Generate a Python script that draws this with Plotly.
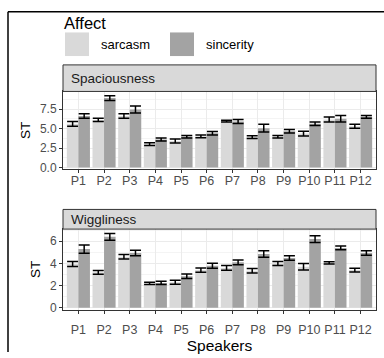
import plotly.graph_objects as go

speakers = ["P1", "P2", "P3", "P4", "P5", "P6", "P7", "P8", "P9", "P10", "P11", "P12"]

spa_sarcasm = [5.6, 6.1, 6.6, 3.0, 3.4, 4.0, 5.95, 3.9, 3.95, 4.35, 6.15, 5.3]
spa_sarcasm_se = [0.3, 0.2, 0.3, 0.18, 0.25, 0.17, 0.12, 0.18, 0.15, 0.3, 0.32, 0.25]
spa_sincerity = [6.6, 8.9, 7.45, 3.6, 3.95, 4.4, 5.9, 5.05, 4.65, 5.6, 6.25, 6.5]
spa_sincerity_se = [0.3, 0.3, 0.45, 0.2, 0.15, 0.22, 0.25, 0.5, 0.22, 0.22, 0.42, 0.18]

wig_sarcasm = [3.95, 3.2, 4.6, 2.2, 2.3, 3.4, 3.6, 3.35, 4.0, 3.7, 4.05, 3.4]
wig_sarcasm_se = [0.22, 0.17, 0.2, 0.1, 0.18, 0.2, 0.22, 0.2, 0.18, 0.3, 0.1, 0.18]
wig_sincerity = [5.3, 6.4, 4.95, 2.25, 2.85, 3.8, 4.1, 4.85, 4.5, 6.2, 5.4, 4.95]
wig_sincerity_se = [0.37, 0.3, 0.25, 0.15, 0.2, 0.22, 0.22, 0.3, 0.2, 0.3, 0.17, 0.2]

facets = ["Spaciousness", "Wiggliness"]
affects = ["sarcasm", "sincerity"]
colors = {"sarcasm": "#D9D9D9", "sincerity": "#A3A3A3"}

W, H = 384, 358
FONT = "Liberation Sans, Arial, sans-serif"

def px_x(x):
    return x / W

def px_y(y):
    return 1 - y / H

fig = go.Figure()

data = [
    ("x", "y", spa_sarcasm, spa_sarcasm_se, spa_sincerity, spa_sincerity_se),
    ("x2", "y2", wig_sarcasm, wig_sarcasm_se, wig_sincerity, wig_sincerity_se),
]
for xa, ya, s1, e1, s2, e2 in data:
    for name, vals, errs in [("sarcasm", s1, e1), ("sincerity", s2, e2)]:
        fig.add_trace(go.Bar(
            x=speakers, y=vals, name=name, xaxis=xa, yaxis=ya,
            marker=dict(color=colors[name], line=dict(width=0)),
            error_y=dict(type="data", array=errs, visible=True, color="black",
                         thickness=1.5, width=5.5),
            showlegend=False, offsetgroup=name,
        ))

x0, x1 = px_x(63), px_x(376)
p1_top, p1_bot = 93, 172
p2_top, p2_bot = 233, 315

common_x = dict(
    type="category", categoryorder="array", categoryarray=speakers,
    showgrid=True, gridcolor="#EBEBEB", gridwidth=1,
    showline=True, linecolor="#333333", linewidth=1, mirror=True,
    ticks="outside", ticklen=3, tickcolor="#333333",
    tickfont=dict(family=FONT, size=12.5, color="#4D4D4D"),
    range=[-0.6, 11.6], fixedrange=True,
)
common_y = dict(
    showgrid=True, gridcolor="#EBEBEB", gridwidth=1,
    showline=True, linecolor="#333333", linewidth=1, mirror=True,
    ticks="outside", ticklen=3, tickcolor="#333333",
    tickfont=dict(family=FONT, size=12, color="#4D4D4D"),
    zeroline=False,
    title=dict(text="ST", font=dict(family=FONT, size=13.5, color="black"), standoff=6),
)

fig.update_layout(
    width=W, height=H, margin=dict(l=0, r=0, t=0, b=0),
    paper_bgcolor="white", plot_bgcolor="white",
    barmode="group", bargap=0.1, bargroupgap=0,
    font=dict(family=FONT),
    xaxis=dict(common_x, domain=[x0, x1], anchor="y", ticklabelstandoff=-3),
    yaxis=dict(common_y, domain=[px_y(p1_bot), px_y(p1_top)], anchor="x",
               range=[-0.2, 9.75], tickvals=[0, 2.5, 5, 7.5],
               ticktext=["0.0", "2.5", "5.0", "7.5"],
               minor=dict(tickvals=[1.25, 3.75, 6.25, 8.75], showgrid=True,
                          gridcolor="#F4F4F4", gridwidth=0.6, ticks="")),
    xaxis2=dict(common_x, domain=[x0, x1], anchor="y2", ticklabelstandoff=5,
                title=dict(text="Speakers", font=dict(family=FONT, size=15.5, color="black"), standoff=4)),
    yaxis2=dict(common_y, domain=[px_y(p2_bot), px_y(p2_top)], anchor="x2",
                range=[-0.17, 7.1], tickvals=[0, 2, 4, 6],
                minor=dict(tickvals=[1, 3, 5, 7], showgrid=True,
                           gridcolor="#F4F4F4", gridwidth=0.6, ticks="")),
)

shapes = []
annotations = []

# strips
for (top, bot), label in zip([(66, 93), (213, 233)], facets):
    shapes.append(dict(type="rect", xref="paper", yref="paper",
                       x0=x0, x1=x1, y0=px_y(bot), y1=px_y(top),
                       fillcolor="#D9D9D9", line=dict(color="#333333", width=1), layer="above"))
    annotations.append(dict(text=label, xref="paper", yref="paper",
                            x=px_x(69), y=px_y((top + bot) / 2), xanchor="left", yanchor="middle",
                            showarrow=False, font=dict(family=FONT, size=13.5, color="#1A1A1A")))

# outer border (left and top visible)
shapes.append(dict(type="line", xref="paper", yref="paper", x0=px_x(8), x1=px_x(8),
                   y0=px_y(12), y1=0, line=dict(color="black", width=1.5)))
shapes.append(dict(type="line", xref="paper", yref="paper", x0=px_x(8), x1=1.0,
                   y0=px_y(12), y1=px_y(12), line=dict(color="black", width=1.5)))

# legend (manual, to match large ggplot keys)
annotations.append(dict(text="Affect", xref="paper", yref="paper", x=px_x(62), y=px_y(23),
                        xanchor="left", yanchor="middle", showarrow=False,
                        font=dict(family=FONT, size=16.5, color="black")))
for name, kx, tx in [("sarcasm", 65, 99), ("sincerity", 170, 204)]:
    shapes.append(dict(type="rect", xref="paper", yref="paper",
                       x0=px_x(kx), x1=px_x(kx + 24), y0=px_y(57), y1=px_y(33),
                       fillcolor=colors[name], line=dict(width=0)))
    annotations.append(dict(text=name, xref="paper", yref="paper", x=px_x(tx), y=px_y(45),
                            xanchor="left", yanchor="middle", showarrow=False,
                            font=dict(family=FONT, size=13, color="black")))

fig.update_layout(shapes=shapes, annotations=annotations)

fig.write_html("out.html")
